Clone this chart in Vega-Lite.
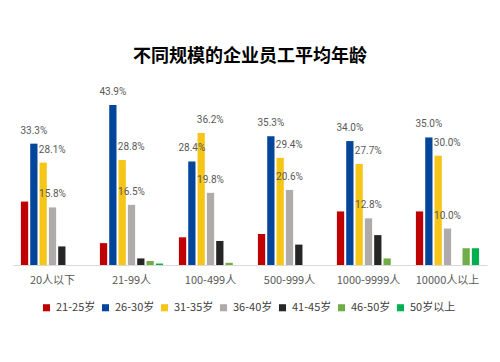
{
  "$schema": "https://vega.github.io/schema/vega-lite/v6.json",
  "autosize": {"type": "none"},
  "padding": {"left": 13, "top": 101, "right": 13, "bottom": 97},
  "width": 474,
  "height": 164,
  "background": "white",
  "config": {"view": {"stroke": null}},
  "title": {
    "text": "不同规模的企业员工平均年龄",
    "font": "Noto Sans CJK SC",
    "fontSize": 18,
    "fontWeight": "bold",
    "color": "#000000",
    "anchor": "middle",
    "offset": 21
  },
  "data": {
    "values": [
      {"size": "20人以下", "age": "21-25岁", "value": 0.174},
      {"size": "20人以下", "age": "26-30岁", "value": 0.333},
      {"size": "20人以下", "age": "31-35岁", "value": 0.281},
      {"size": "20人以下", "age": "36-40岁", "value": 0.158},
      {"size": "20人以下", "age": "41-45岁", "value": 0.051},
      {"size": "21-99人", "age": "21-25岁", "value": 0.060},
      {"size": "21-99人", "age": "26-30岁", "value": 0.439},
      {"size": "21-99人", "age": "31-35岁", "value": 0.288},
      {"size": "21-99人", "age": "36-40岁", "value": 0.165},
      {"size": "21-99人", "age": "41-45岁", "value": 0.018},
      {"size": "21-99人", "age": "46-50岁", "value": 0.011},
      {"size": "21-99人", "age": "50岁以上", "value": 0.004},
      {"size": "100-499人", "age": "21-25岁", "value": 0.076},
      {"size": "100-499人", "age": "26-30岁", "value": 0.284},
      {"size": "100-499人", "age": "31-35岁", "value": 0.362},
      {"size": "100-499人", "age": "36-40岁", "value": 0.198},
      {"size": "100-499人", "age": "41-45岁", "value": 0.066},
      {"size": "100-499人", "age": "46-50岁", "value": 0.006},
      {"size": "500-999人", "age": "21-25岁", "value": 0.085},
      {"size": "500-999人", "age": "26-30岁", "value": 0.353},
      {"size": "500-999人", "age": "31-35岁", "value": 0.294},
      {"size": "500-999人", "age": "36-40岁", "value": 0.206},
      {"size": "500-999人", "age": "41-45岁", "value": 0.056},
      {"size": "1000-9999人", "age": "21-25岁", "value": 0.147},
      {"size": "1000-9999人", "age": "26-30岁", "value": 0.340},
      {"size": "1000-9999人", "age": "31-35岁", "value": 0.277},
      {"size": "1000-9999人", "age": "36-40岁", "value": 0.128},
      {"size": "1000-9999人", "age": "41-45岁", "value": 0.082},
      {"size": "1000-9999人", "age": "46-50岁", "value": 0.018},
      {"size": "10000人以上", "age": "21-25岁", "value": 0.147},
      {"size": "10000人以上", "age": "26-30岁", "value": 0.350},
      {"size": "10000人以上", "age": "31-35岁", "value": 0.300},
      {"size": "10000人以上", "age": "36-40岁", "value": 0.100},
      {"size": "10000人以上", "age": "46-50岁", "value": 0.046},
      {"size": "10000人以上", "age": "50岁以上", "value": 0.046}
    ]
  },
  "encoding": {
    "x": {
      "field": "size",
      "type": "nominal",
      "sort": ["20人以下", "21-99人", "100-499人", "500-999人", "1000-9999人", "10000人以上"],
      "scale": {"paddingInner": 0.2, "paddingOuter": 0.1},
      "axis": {
        "title": null,
        "labelAngle": 0,
        "ticks": false,
        "domainColor": "#d9d9d9",
        "domainWidth": 1,
        "labelColor": "#595959",
        "labelFont": "Noto Sans CJK SC",
        "labelFontSize": 11,
        "labelPadding": 9
      }
    },
    "xOffset": {
      "field": "age",
      "type": "nominal",
      "scale": {
        "domain": ["21-25岁", "26-30岁", "31-35岁", "36-40岁", "41-45岁", "46-50岁", "50岁以上"],
        "paddingInner": 0.22
      }
    },
    "y": {
      "field": "value",
      "type": "quantitative",
      "scale": {"domain": [0, 0.45]},
      "axis": null
    }
  },
  "layer": [
    {
      "mark": {"type": "bar"},
      "encoding": {
        "color": {
          "field": "age",
          "type": "nominal",
          "scale": {
            "domain": ["21-25岁", "26-30岁", "31-35岁", "36-40岁", "41-45岁", "46-50岁", "50岁以上"],
            "range": ["#C00000", "#03459A", "#F5C518", "#AFABAB", "#262626", "#70AD47", "#00B050"]
          },
          "legend": {
            "title": null,
            "orient": "none",
            "legendX": 28,
            "legendY": 201,
            "direction": "horizontal",
            "symbolType": "square",
            "symbolSize": 50,
            "symbolStrokeWidth": 0,
            "labelFont": "Noto Sans CJK SC",
            "labelFontSize": 11,
            "labelColor": "#404040",
            "columnPadding": 4,
            "labelOffset": 4
          }
        }
      }
    },
    {
      "transform": [{"filter": {"field": "age", "oneOf": ["26-30岁", "36-40岁"]}}],
      "mark": {"type": "text", "baseline": "middle", "align": "center", "dy": -13, "font": "Roboto", "fontSize": 10, "color": "#595959"},
      "encoding": {
        "text": {"field": "value", "type": "quantitative", "format": ".1%"}
      }
    },
    {
      "transform": [{"filter": {"field": "age", "equal": "31-35岁"}}],
      "mark": {"type": "text", "baseline": "middle", "align": "center", "dx": 9, "dy": -13, "font": "Roboto", "fontSize": 10, "color": "#595959"},
      "encoding": {
        "text": {"field": "value", "type": "quantitative", "format": ".1%"}
      }
    }
  ]
}
